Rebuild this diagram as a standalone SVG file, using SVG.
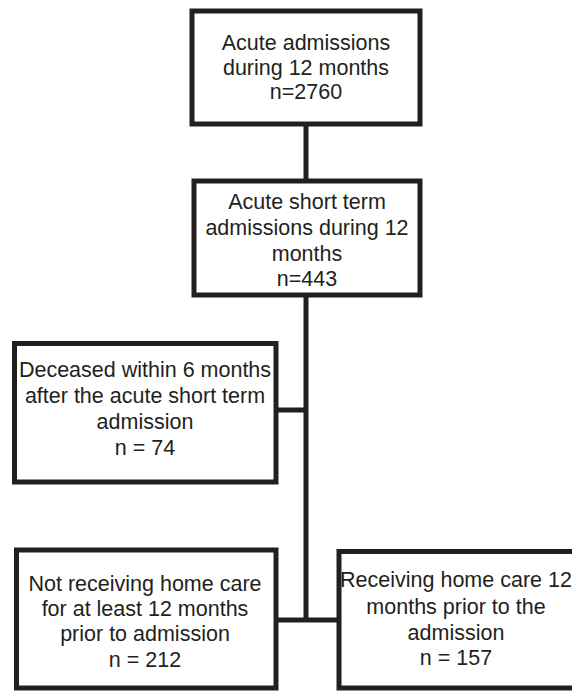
<svg xmlns="http://www.w3.org/2000/svg" width="572" height="691" viewBox="0 0 572 691">
<style>
.box{fill:#ffffff;stroke:#231f20;stroke-width:5}
.ln{fill:none;stroke:#231f20;stroke-width:5}
text{font-family:"Liberation Sans",Arial,sans-serif;font-size:21.5px;fill:#231f20;text-anchor:middle}
</style>
<rect width="572" height="691" fill="#ffffff"/>
<g id="connectors">
<line class="ln" x1="306" y1="124" x2="306" y2="181"/>
<line class="ln" x1="306" y1="295" x2="306" y2="622"/>
<line class="ln" x1="276" y1="410" x2="306" y2="410"/>
<line class="ln" x1="276" y1="620" x2="339" y2="620"/>
</g>
<g id="n1">
<rect class="box" x="192" y="11" width="228" height="113"/>
<text x="306" y="50">Acute admissions</text>
<text x="306" y="74.5">during 12 months</text>
<text x="306" y="99">n=2760</text>
</g>
<g id="n2">
<rect class="box" x="194" y="181" width="226" height="114"/>
<text x="307" y="209">Acute short term</text>
<text x="307" y="235">admissions during 12</text>
<text x="307" y="261">months</text>
<text x="307" y="286">n=443</text>
</g>
<g id="n3">
<rect class="box" x="14.5" y="343.5" width="261.5" height="138.5"/>
<text x="145" y="377">Deceased within 6 months</text>
<text x="145" y="403">after the acute short term</text>
<text x="145" y="429">admission</text>
<text x="145" y="455">n = 74</text>
</g>
<g id="n4">
<rect class="box" x="16.5" y="550" width="259.5" height="138"/>
<text x="145" y="591">Not receiving home care</text>
<text x="145" y="616">for at least 12 months</text>
<text x="145" y="641">prior to admission</text>
<text x="145" y="667">n = 212</text>
</g>
<g id="n5">
<rect class="box" x="339" y="551.5" width="240" height="136.5"/>
<text x="456" y="587">Receiving home care 12</text>
<text x="456" y="614">months prior to the</text>
<text x="456" y="640">admission</text>
<text x="456" y="665">n = 157</text>
</g>
</svg>
